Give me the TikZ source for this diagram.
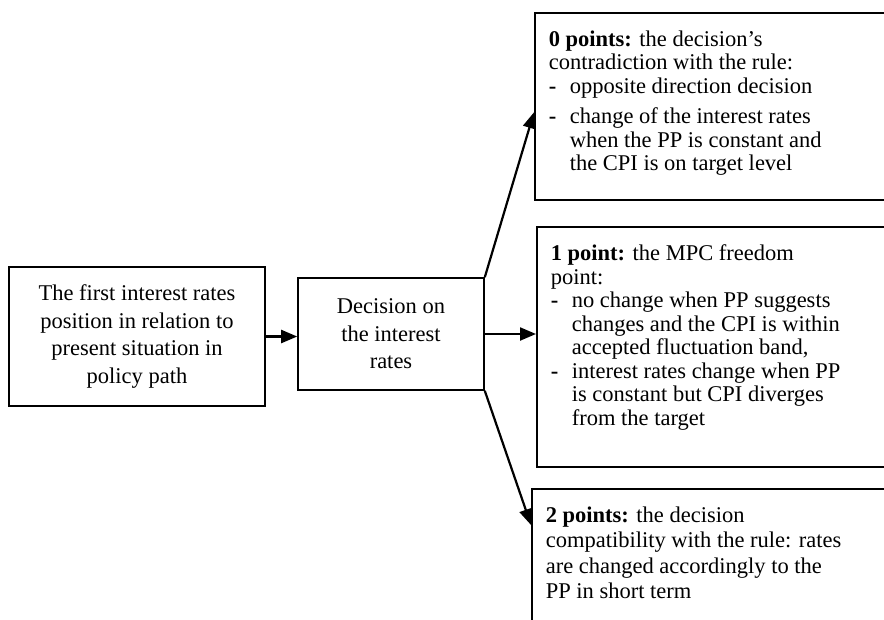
\documentclass[tikz,border=0pt]{standalone}
\usepackage{fontspec}
\setmainfont{Liberation Serif}
\usetikzlibrary{arrows.meta}

% dash item with hanging indent
\newcommand{\dashitem}{\par\hangindent=21pt\hangafter=1\noindent\makebox[21pt][l]{\textbf{-}}}
% top aligned text inside the right boxes
\newcommand{\rtext}[2]{\parbox[t][#1][t]{330pt}{#2}}

\begin{document}
\begin{tikzpicture}[x=1pt,y=-1pt,font=\fontsize{22.5}{23.5}\selectfont,
    box/.style={draw, line width=1.6pt, inner sep=0pt},
    cbox/.style={box, align=center, font=\fontsize{22.5}{27.5}\selectfont},
    rbox/.style={box, anchor=north west, inner xsep=14pt, inner ysep=18pt},
    flow/.style={line width=2.2pt, -{Triangle[length=16pt,width=13pt]}}]
    \useasboundingbox (0,0) rectangle (884,619);
    \clip (0,0) rectangle (884,619);

    % Left part
    \node[cbox, minimum width=256, minimum height=139] (first) at (137,336.5)
        {The first interest rates\\ position in relation to\\ present situation in\\ policy path};
    \node[cbox, minimum width=186, minimum height=112] (decision) at (391,334)
        {Decision on\\ the interest\\ rates};

    % Right boxes (cut at the picture edge)
    \node[rbox] (zero) at (534,12) {\rtext{151pt}{%
        \textbf{0 points:} the decision's\\ contradiction with the rule:
        \dashitem opposite direction decision
        \par\vspace{7pt}
        \dashitem change of the interest rates\\ when the PP is constant and\\ the CPI is on target level}};
    \node[rbox] (one) at (536,226) {\rtext{204pt}{%
        \textbf{1 point:} the MPC freedom\\ point:
        \dashitem no change when PP suggests\\ changes and the CPI is within\\ accepted fluctuation band,
        \dashitem interest rates change when PP\\ is constant but CPI diverges\\ from the target}};
    \node[rbox] (two) at (531,488) {\rtext{130pt}{\baselineskip=25.5pt
        \textbf{2 points:} the decision\\ compatibility with the rule: rates\\ are changed accordingly to the\\ PP in short term}};

    % Arrows
    \draw[flow] (first.east) -- (first.east -| decision.west);
    \draw[flow] (decision.east) -- (decision.east -| one.west);
    \draw[flow] (decision.north east) -- ([yshift=-6pt]zero.west);
    \draw[flow] (decision.south east) -- ([yshift=-37pt]two.north west);
\end{tikzpicture}
\end{document}
